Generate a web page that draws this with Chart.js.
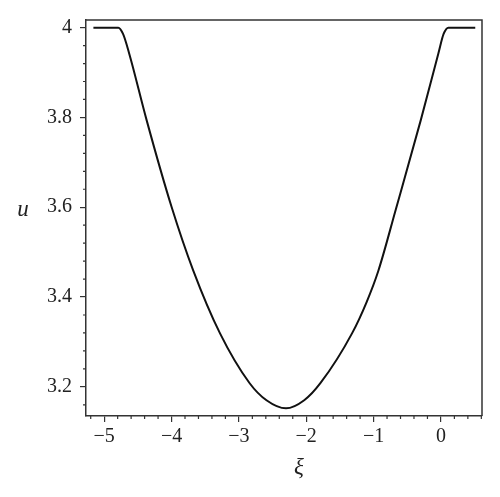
<!DOCTYPE html>
<html>
<head>
<meta charset="utf-8">
<script src="https://cdn.jsdelivr.net/npm/chart.js@4/dist/chart.umd.min.js"></script>
<style>
  body { margin: 0; background: #fff; }
  #wrap { width: 500px; height: 497px; }
</style>
</head>
<body>
<div id="wrap"><canvas id="myChart" width="500" height="497"></canvas></div>
<script>
// curve
var xiValues = [-5.16, -4.79, -4.72, -4.63, -4.37, -4.0, -3.68, -3.28, -2.84, -2.59, -2.30,
                -2.03, -1.79, -1.32, -1.10, -0.93, -0.67, -0.299, -0.037, 0.04, 0.111, 0.51];
var uValues = [4.0, 4.0, 3.986, 3.943, 3.794, 3.601, 3.460, 3.319, 3.208, 3.170, 3.152,
               3.170, 3.208, 3.319, 3.390, 3.458, 3.595, 3.794, 3.943, 3.986, 4.0, 4.0];

var xMajor = [-5, -4, -3, -2, -1, 0];
var yMajor = [3.2, 3.4, 3.6, 3.8, 4.0];

var points = xiValues.map(function (x, i) { return { x: x, y: uValues[i] }; });

var serif = '"Liberation Serif", "DejaVu Serif", serif';
var axisColor = '#333';

function fmt(v) {
  return String(Math.round(v * 10) / 10).replace('-', '\u2212');
}

// frame, minor ticks and axis names
var extras = {
  id: 'extras',
  afterDraw: function (chart) {
    var ctx = chart.ctx;
    var a = chart.chartArea;
    var xs = chart.scales.x, ys = chart.scales.y;
    ctx.save();
    ctx.strokeStyle = axisColor;
    ctx.lineWidth = 1.5;
    ctx.beginPath();
    ctx.moveTo(a.left, a.top);
    ctx.lineTo(a.right, a.top);
    ctx.lineTo(a.right, a.bottom);
    ctx.stroke();

    ctx.lineWidth = 1.2;
    ctx.beginPath();
    for (var i = -26; i <= 3; i++) {
      if (i % 5 === 0) continue;
      var px = xs.getPixelForValue(i * 0.2);
      ctx.moveTo(px, a.bottom);
      ctx.lineTo(px, a.bottom + 3);
    }
    for (var j = 79; j <= 100; j++) {
      if (j % 5 === 0) continue;
      var py = ys.getPixelForValue(j * 0.04);
      ctx.moveTo(a.left, py);
      ctx.lineTo(a.left - 3, py);
    }
    ctx.stroke();

    ctx.fillStyle = '#222';
    ctx.font = 'italic 23px ' + serif;
    ctx.textAlign = 'center';
    ctx.textBaseline = 'middle';
    ctx.fillText('u', 23, 210);
    ctx.fillText('\u03BE', 299, 468);
    ctx.restore();
  }
};

new Chart('myChart', {
  type: 'scatter',
  data: {
    datasets: [{
      data: points,
      showLine: true,
      borderColor: '#111',
      borderWidth: 2,
      pointRadius: 0,
      cubicInterpolationMode: 'monotone',
      fill: false
    }]
  },
  options: {
    responsive: false,
    animation: false,
    layout: { padding: { top: 20, right: 18, left: 0, bottom: 0 } },
    plugins: { legend: { display: false }, tooltip: { enabled: false } },
    scales: {
      x: {
        type: 'linear',
        min: -5.27,
        max: 0.61,
        afterFit: function (s) { s.height = 81; },
        afterBuildTicks: function (s) { s.ticks = xMajor.map(function (v) { return { value: v }; }); },
        border: { display: true, color: axisColor, width: 1.5 },
        grid: { drawOnChartArea: false, drawTicks: true, tickLength: 6, color: axisColor, lineWidth: 1.2 },
        ticks: {
          color: '#222',
          font: { family: serif, size: 20 },
          padding: 3,
          maxRotation: 0,
          callback: function (v) { return fmt(v); }
        }
      },
      y: {
        type: 'linear',
        min: 3.135,
        max: 4.017,
        afterFit: function (s) { s.width = 86; },
        afterBuildTicks: function (s) { s.ticks = yMajor.map(function (v) { return { value: v }; }); },
        border: { display: true, color: axisColor, width: 1.5 },
        grid: { drawOnChartArea: false, drawTicks: true, tickLength: 6, color: axisColor, lineWidth: 1.2 },
        ticks: {
          color: '#222',
          font: { family: serif, size: 20 },
          padding: 8,
          callback: function (v) { return fmt(v); }
        }
      }
    }
  },
  plugins: [extras]
});
</script>
</body>
</html>
